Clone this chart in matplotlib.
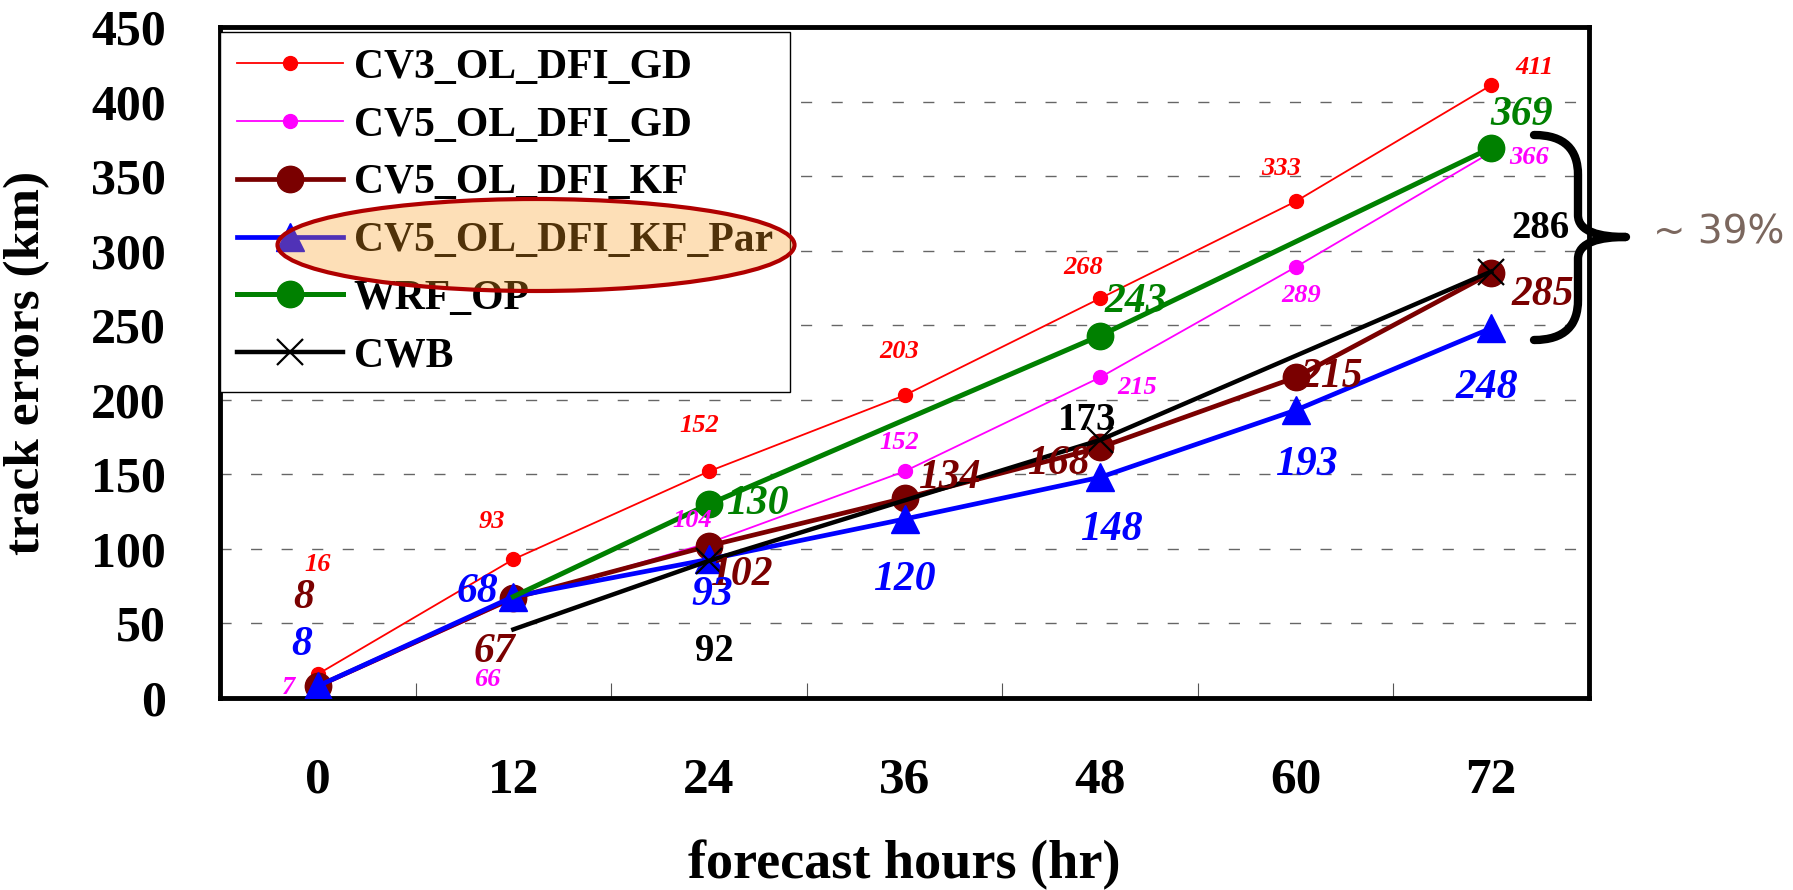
import numpy as np
import matplotlib
matplotlib.use('Agg')
import matplotlib.pyplot as plt
from matplotlib.lines import Line2D
from matplotlib.patches import Ellipse, PathPatch
from matplotlib.path import Path

plt.rcParams['font.family'] = ['Liberation Serif', 'DejaVu Serif']
plt.rcParams['font.weight'] = 'bold'

# forecast hours (categories) and track errors (km) per experiment
hours = [0, 12, 24, 36, 48, 60, 72]
cv3_ol_dfi_gd = [16, 93, 152, 203, 268, 333, 411]
cv5_ol_dfi_gd = [7, 66, 104, 152, 215, 289, 366]
cv5_ol_dfi_kf = [8, 67, 102, 134, 168, 215, 285]
cv5_ol_dfi_kf_par = [8, 68, 93, 120, 148, 193, 248]
wrf_op = [np.nan, 68, 130, np.nan, 243, np.nan, 369]
cwb = [np.nan, 46, 92, np.nan, 173, np.nan, 286]

# value label offsets in pixels (dx, dy); None = no marker / no label
off_cv3 = [(0, 110), (-21, 38), (-10, 46), (-5, 44), (-17, 31), (-15, 33), (43, 18)]
off_cv5 = [(-29, 0), (-26, -80), (-17, 22), (-5, 29), (37, -10), (6, -28), (38, -5)]
off_kf = [(-14, 88), (-19, -54), (32, -29), (45, 20), (-42, -17), (36, 0), (52, -22)]
off_par = [(-16, 41), (-36, 5), (3, -36), (0, -61), (11, -53), (11, -55), (-4, -60)]
off_wrf = [None, None, (48, 0), None, (36, 34), None, (30, 33)]
off_cwb = [None, None, (5, -91), None, (-13, 20), None, (49, 43)]

series = [
    # name, values, color, lw, marker, ms, mew, label size, italic, offsets
    ('CV3_OL_DFI_GD', cv3_ol_dfi_gd, '#FF0000', 1.3, 'o', 10, 1, 19, True, off_cv3),
    ('CV5_OL_DFI_GD', cv5_ol_dfi_gd, '#FF00FF', 1.3, 'o', 10, 1, 19, True, off_cv5),
    ('CV5_OL_DFI_KF', cv5_ol_dfi_kf, '#7A0000', 3.4, 'o', 19, 1, 30, True, off_kf),
    ('CV5_OL_DFI_KF_Par', cv5_ol_dfi_kf_par, '#0000FF', 3.4, '^', 20, 1, 30, True, off_par),
    ('WRF_OP', wrf_op, '#008000', 3.6, 'o', 19, 1, 30, True, off_wrf),
    ('CWB', cwb, '#000000', 3.2, 'x', 19, 1.6, 28, False, off_cwb),
]

fig = plt.figure(figsize=(17.93, 8.90), dpi=100)
ax = fig.add_axes([220 / 1793, 192 / 890, 1369 / 1793, 671 / 890])

x = np.arange(len(hours))
handles = []
for k, (name, vals, col, lw, mk, ms, mew, fs, ital, offs) in enumerate(series):
    y = np.array(vals, dtype=float)
    ok = ~np.isnan(y)
    marked = [i for i in range(len(y)) if offs[i] is not None]
    ax.plot(x[ok], y[ok], color=col, lw=lw, zorder=3 + k)
    ax.plot(x[marked], y[marked], ls='none', marker=mk, ms=ms, color=col,
            mec=col, mew=mew, zorder=3 + k)
    handles.append(Line2D([], [], color=col, lw=lw, marker=mk, ms=ms, mew=mew))
    for i in marked:
        dx, dy = offs[i]
        ax.annotate(f'{y[i]:.0f}', (x[i], y[i]), xytext=(dx * 0.72, dy * 0.72),
                    textcoords='offset points', ha='center', va='center',
                    color=col, fontsize=fs, fontweight='bold',
                    fontstyle='italic' if ital else 'normal', zorder=12)

ax.set_xlim(-0.5, 6.5)
ax.set_ylim(0, 450)
ax.set_yticks(range(0, 451, 50))
ax.yaxis.grid(True, ls=(0, (8, 14)), color='#666666', lw=1)
ax.set_axisbelow(True)
ax.tick_params(axis='y', length=0, pad=39, labelsize=36)
ax.set_xticks(x)
ax.set_xticklabels(hours)
ax.tick_params(axis='x', which='major', length=0, pad=43, labelsize=37)
ax.set_xticks(np.arange(0.5, 6, 1), minor=True)
ax.tick_params(axis='x', which='minor', direction='in', length=11, width=0.8,
               color='#555555')
for sp in ax.spines.values():
    sp.set_linewidth(3.5)

ax.set_xlabel('forecast hours (hr)', fontsize=39, fontweight='bold', va='baseline')
ax.xaxis.set_label_coords(0.5, -(878 - 698) / 671)
ax.set_ylabel('track errors (km)', fontsize=37, fontweight='bold')
ax.yaxis.set_label_coords(-0.124, 0.5)

leg = ax.legend(handles, [s[0] for s in series], loc='upper left',
                bbox_to_anchor=(220 / 1793, 1 - 32 / 890), bbox_transform=fig.transFigure,
                borderaxespad=0, fontsize=30, handlelength=2.55, handletextpad=0.26,
                labelspacing=0.47, borderpad=0.4, fancybox=False, framealpha=1,
                edgecolor='black')
leg.get_frame().set_linewidth(1.0)
leg.set_zorder(20)

# highlight ellipse over the KF_Par legend entry
ell = Ellipse((536 / 1793, 1 - 245 / 890), 517 / 1793, 92 / 890, transform=fig.transFigure,
              facecolor=(0.98, 0.61, 0.12, 0.32), edgecolor='#B00000', lw=3, zorder=5)
fig.add_artist(ell)


# curly brace to the right of the 72 h values
def fp(px, py):
    return (px / 1793, 1 - py / 890)


verts = [fp(1534, 135), fp(1565, 135), fp(1578, 150), fp(1578, 175),
         fp(1578, 215),
         fp(1578, 232), fp(1600, 237), fp(1626, 237),
         fp(1600, 237), fp(1578, 242), fp(1578, 259),
         fp(1578, 300),
         fp(1578, 325), fp(1565, 340), fp(1534, 340)]
codes = [Path.MOVETO, Path.CURVE4, Path.CURVE4, Path.CURVE4,
         Path.LINETO,
         Path.CURVE4, Path.CURVE4, Path.CURVE4,
         Path.CURVE4, Path.CURVE4, Path.CURVE4,
         Path.LINETO,
         Path.CURVE4, Path.CURVE4, Path.CURVE4]
brace = PathPatch(Path(verts, codes), transform=fig.transFigure, fill=False,
                  lw=6, color='black', capstyle='round', joinstyle='round', zorder=6)
fig.add_artist(brace)
fig.text(1653 / 1793, 1 - 233 / 890, '~ 39%', ha='left', va='center', fontsize=28,
         color='#7B675E', family='DejaVu Sans', fontweight='medium')

fig.savefig('out.png', dpi=100)
